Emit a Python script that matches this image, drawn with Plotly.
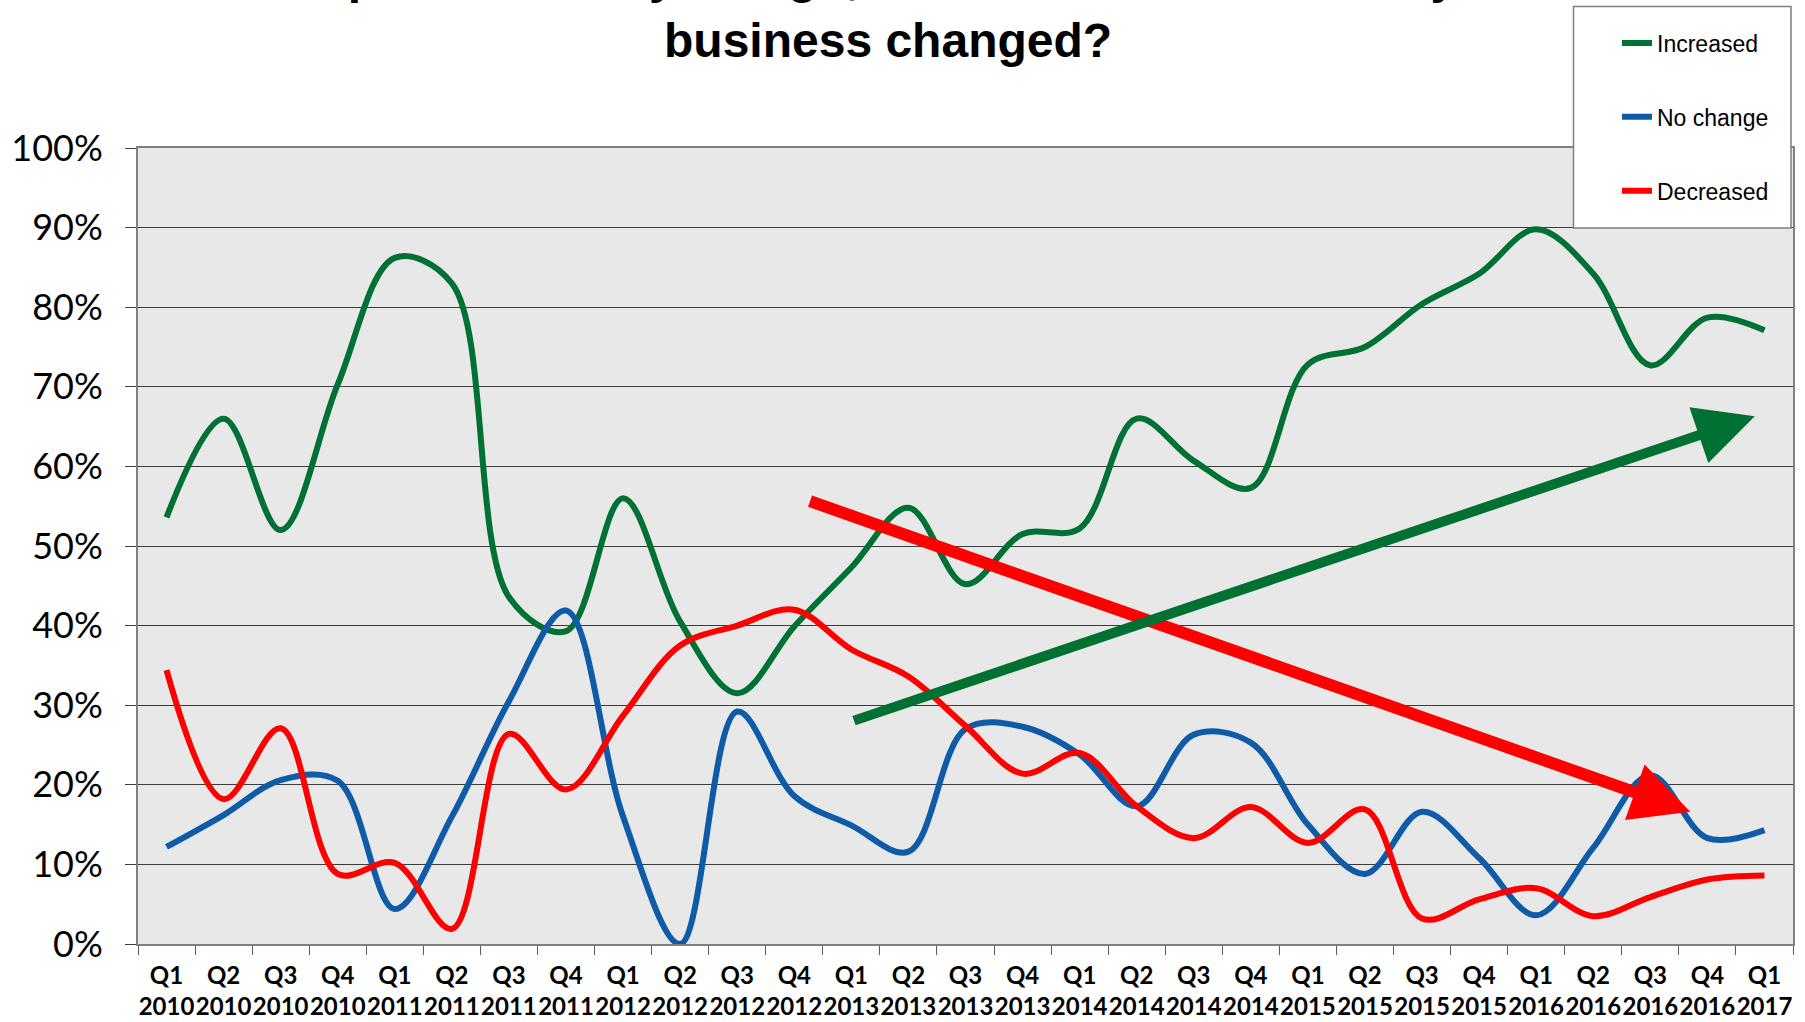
import plotly.graph_objects as go

# ---------------- data ----------------
quarters = ["Q1", "Q2", "Q3", "Q4"] * 7 + ["Q1"]
years = (["2010"] * 4 + ["2011"] * 4 + ["2012"] * 4 + ["2013"] * 4 +
         ["2014"] * 4 + ["2015"] * 4 + ["2016"] * 4 + ["2017"])
categories = [f"{q}<br>{y}" for q, y in zip(quarters, years)]

increased = [53.6, 66.0, 52.0, 70.3, 86.2, 83.0, 43.6, 39.3, 56.0, 40.5,
             31.5, 39.9, 47.3, 54.8, 45.2, 51.5, 52.2, 66.0, 60.7, 57.3,
             72.8, 75.0, 80.4, 84.2, 89.8, 84.2, 72.7, 78.7, 77.1]
no_change = [12.2, 16.2, 20.6, 20.5, 4.4, 16.0, 30.5, 41.9, 16.0, 0.0,
             29.2, 18.6, 14.9, 11.6, 27.0, 27.3, 23.8, 17.3, 26.3, 25.3,
             15.0, 8.8, 16.6, 10.8, 3.6, 12.1, 21.2, 13.3, 14.3]
decreased = [34.4, 18.2, 27.1, 8.8, 10.2, 1.9, 26.4, 19.4, 28.7, 37.5,
             40.0, 42.0, 37.0, 33.6, 27.4, 21.4, 24.0, 17.3, 13.3, 17.2,
             12.7, 16.9, 3.2, 5.6, 7.0, 3.5, 5.9, 8.1, 8.6]

series_names = ["Increased", "No change", "Decreased"]
series_values = [increased, no_change, decreased]
series_colors = ["#007033", "#0F5BA8", "#FF0000"]

# trend arrows: (tail index, tail value %, head index, head value %)
trend_arrows = [
    dict(color="#FF0000", tail=(11.25, 55.7), head=(26.7, 16.6), width=12, size=0.98),
    dict(color="#007033", tail=(12.02, 28.0), head=(27.83, 66.3), width=10, size=1.18),
]

title_line1 = "Compared to one year ago, how has the turnover of your"
title_line2 = "business changed?"

# ---------------- figure ----------------
W, H = 1805, 1022
L, R, T, B = 138, 12, 148, 78
plot_h = H - T - B
plot_w = W - L - R


def py(p):
    return (H - B - p) / plot_h


def px(p):
    return (p - L) / plot_w


fig = go.Figure()
for i, (name, vals, col) in enumerate(zip(series_names, series_values, series_colors)):
    fig.add_trace(go.Scatter(
        x=categories, y=[v / 100 for v in vals], name=name, mode="lines",
        line=dict(color=col, width=6, shape="spline", smoothing=1.0),
        legendgroup=f"g{i}",
    ))

annotations = []
for a in trend_arrows:
    annotations.append(dict(
        x=a["head"][0], y=a["head"][1] / 100, ax=a["tail"][0], ay=a["tail"][1] / 100,
        xref="x", yref="y", axref="x", ayref="y", text="", showarrow=True,
        arrowhead=2, arrowwidth=a["width"], arrowsize=a["size"], arrowcolor=a["color"],
        standoff=0, startstandoff=0,
    ))

annotations.append(dict(
    text=f"<b>{title_line1}</b>", x=px(888), y=py(5), xref="paper", yref="paper",
    xanchor="center", yanchor="bottom", showarrow=False,
    font=dict(family="Liberation Sans", size=48, color="#000000"),
))
annotations.append(dict(
    text=f"<b>{title_line2}</b>", x=px(888), y=py(69.5), xref="paper", yref="paper",
    xanchor="center", yanchor="bottom", showarrow=False,
    font=dict(family="Liberation Sans", size=48, color="#000000"),
))

fig.update_layout(
    width=W, height=H,
    margin=dict(l=L, r=R, t=T, b=B, pad=0, autoexpand=False),
    paper_bgcolor="#FFFFFF", plot_bgcolor="#E8E8E8",
    showlegend=True,
    legend=dict(
        xref="container", yref="container",
        x=1617 / W, y=1 - 21.5 / H, xanchor="left", yanchor="top",
        bgcolor="rgba(0,0,0,0)", borderwidth=0,
        font=dict(family="Liberation Sans", size=23, color="#000000"),
        tracegroupgap=41, traceorder="grouped",
    ),
    annotations=annotations,
    shapes=[dict(
        type="rect", xref="paper", yref="paper",
        x0=px(1573.5), x1=px(1791), y0=py(228), y1=py(6.5),
        fillcolor="#FFFFFF", line=dict(color="#7F7F7F", width=1.5), layer="above",
    )],
    xaxis=dict(
        type="category", range=[-0.5, len(categories) - 0.5],
        automargin=False, tickangle=0,
        showgrid=False, ticks="outside", tickson="boundaries", ticklen=9,
        tickcolor="#595959", tickwidth=1,
        showline=True, linecolor="#808080", linewidth=2, mirror=True,
        tickfont=dict(family="Lato", size=24, color="#000000", weight="bold"),
        ticklabelstandoff=9,
    ),
    yaxis=dict(
        range=[0, 1], dtick=0.1, tickformat=".0%", automargin=False,
        showgrid=True, gridcolor="#3C3C3C", gridwidth=1.2,
        ticks="outside", ticklen=11, tickcolor="#404040", tickwidth=1,
        showline=True, linecolor="#808080", linewidth=2, mirror=True,
        tickfont=dict(family="Lato", size=36, color="#000000"),
        ticklabelstandoff=15, zeroline=False,
    ),
)

fig.write_html(
    "out.html",
    config={"displayModeBar": False},
    post_script="document.body.style.margin='0';document.body.style.overflow='hidden';",
)
